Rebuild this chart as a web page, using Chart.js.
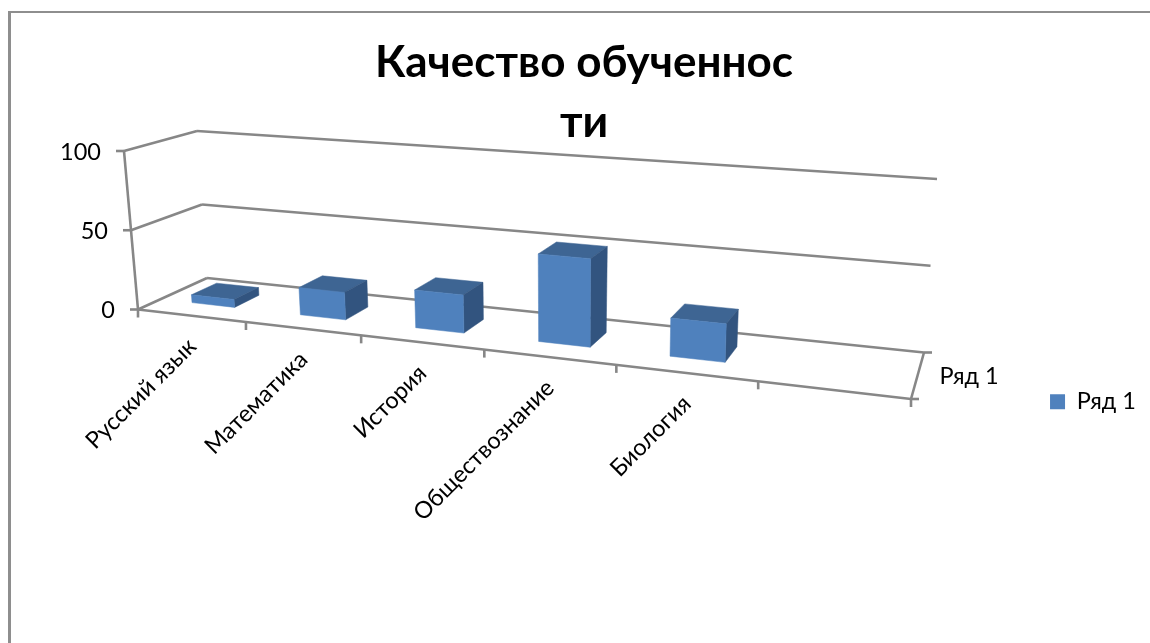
<!DOCTYPE html>
<html>
<head>
<meta charset="utf-8">
<style>
  html, body { margin: 0; padding: 0; background: #fff; overflow: hidden; }
  #frame { position: absolute; left: 8px; top: 11px; width: 1142px; height: 632px; border-left: 3px solid #8e8e8e; border-top: 2px solid #8e8e8e; box-sizing: border-box; }
  #chart { position: absolute; left: 0; top: 0; }
</style>
<script src="https://cdn.jsdelivr.net/npm/chart.js@4/dist/chart.umd.js"></script>
</head>
<body>
<div id="frame"></div>
<canvas id="chart" width="1150" height="643"></canvas>
<script>
// Data
const categories = ['Русский язык', 'Математика', 'История', 'Обществознание', 'Биология', ''];
const seriesName = 'Ряд 1';
const seriesValues = [5, 17, 23, 52, 22, null];
const valueTicks = [0, 50, 100];
const chartTitle = ['Качество обученнос', 'ти'];

// Colours and font
const frontColor = '#4f81bd';
const topColor = '#3e6593';
const sideColor = '#32547f';
const gridColor = '#878787';
const fontFamily = 'Lato, Carlito, sans-serif';
const labelSize = 23.5;

// Where the 3D box lands on the page: [x, y] per corner
const box = {
  frontBottomLeft: [138, 309.5], frontBottomRight: [911, 399],
  backBottomLeft: [207, 278], backBottomRight: [924, 352.5],
  frontTopLeft: [124, 151], frontTopRight: [921, 213],
  backTopLeft: [197, 131], backTopRight: [937, 179]
};
const perspectiveFront = 1.232; // categories get wider towards the right
const perspectiveBack = 1.19;
const barDepth = [0.33, 0.70]; // bars sit in the middle of the floor

function lerp(a, b, t) { return a + (b - a) * t; }

// u along the categories, v up the values, d into the page, all 0..1
function project(u, v, d) {
  const k = lerp(perspectiveFront, perspectiveBack, d);
  const w = u === 0 ? 0 : u / (u + k * (1 - u));
  const pick = i => {
    const bottom = lerp(
      lerp(box.frontBottomLeft[i], box.frontBottomRight[i], w),
      lerp(box.backBottomLeft[i], box.backBottomRight[i], w), d);
    const top = lerp(
      lerp(box.frontTopLeft[i], box.frontTopRight[i], w),
      lerp(box.backTopLeft[i], box.backTopRight[i], w), d);
    return lerp(bottom, top, v);
  };
  return [pick(0), pick(1)];
}

function line(ctx, a, b) {
  ctx.beginPath();
  ctx.moveTo(a[0], a[1]);
  ctx.lineTo(b[0], b[1]);
  ctx.stroke();
}

function face(ctx, points, color) {
  ctx.fillStyle = color;
  ctx.strokeStyle = color;
  ctx.lineWidth = 0.5;
  ctx.beginPath();
  points.forEach((p, i) => i ? ctx.lineTo(p[0], p[1]) : ctx.moveTo(p[0], p[1]));
  ctx.closePath();
  ctx.fill();
  ctx.stroke();
}

// Walls, floor, axes and their labels, placed from the chart's own scales
const box3d = {
  id: 'box3d',
  beforeDatasetsDraw(chart) {
    const ctx = chart.ctx;
    const xScale = chart.scales.x;
    const yScale = chart.scales.y;
    const vOf = value => (yScale.bottom - yScale.getPixelForValue(value)) / (yScale.bottom - yScale.top);

    ctx.save();
    ctx.strokeStyle = gridColor;
    ctx.lineWidth = 2.6;

    // value axis + gridlines along left wall and back wall
    line(ctx, project(0, 0, 0), project(0, 1, 0));
    ctx.fillStyle = '#000';
    ctx.font = labelSize + 'px ' + fontFamily;
    ctx.textBaseline = 'middle';
    ctx.textAlign = 'right';
    valueTicks.forEach(t => {
      const v = vOf(t);
      const front = project(0, v, 0);
      line(ctx, front, project(0, v, 1));
      line(ctx, project(0, v, 1), project(1, v, 1));
      line(ctx, [front[0] - 8, front[1]], front);
      ctx.fillText(String(t), front[0] - 23, front[1] + 1);
    });

    // floor edges
    line(ctx, project(0, 0, 0), project(1, 0, 0));
    line(ctx, project(1, 0, 0), project(1, 0, 1));
    const backEnd = project(1, 0, 1);
    const frontEnd = project(1, 0, 0);
    line(ctx, backEnd, [backEnd[0] + 8, backEnd[1]]);
    line(ctx, frontEnd, [frontEnd[0] + 8, frontEnd[1]]);

    // category ticks and slanted labels
    const n = categories.length;
    for (let i = 0; i <= n; i++) {
      const p = project(i / n, 0, 0);
      line(ctx, p, [p[0], p[1] + 8]);
    }
    categories.forEach((name, i) => {
      const u = (xScale.getPixelForValue(i) - xScale.left) / (xScale.right - xScale.left);
      const p = project(u, 0, 0);
      ctx.save();
      ctx.translate(p[0] + 1, p[1] + 27);
      ctx.rotate(-Math.PI / 4);
      ctx.textAlign = 'right';
      ctx.fillText(name, 0, 0);
      ctx.restore();
    });

    // series axis label
    ctx.textAlign = 'left';
    const mid = project(1, 0, 0.5);
    ctx.fillText(seriesName, mid[0] + 22, mid[1] + 1);
    ctx.restore();
  },
  // Bars come from the bar elements, then get folded into the box
  beforeDatasetDraw(chart, args) {
    const ctx = chart.ctx;
    const xScale = chart.scales.x;
    const yScale = chart.scales.y;
    const uOf = px => (px - xScale.left) / (xScale.right - xScale.left);
    const vOf = px => (yScale.bottom - px) / (yScale.bottom - yScale.top);
    ctx.save();
    args.meta.data.forEach((bar, i) => {
      if (seriesValues[i] === null) return;
      const b = bar.getProps(['x', 'y', 'base', 'width'], true);
      const u0 = uOf(b.x - b.width / 2);
      const u1 = uOf(b.x + b.width / 2);
      const v0 = vOf(b.base);
      const v1 = vOf(b.y);
      const d0 = barDepth[0];
      const d1 = barDepth[1];
      face(ctx, [project(u0, v1, d0), project(u1, v1, d0), project(u1, v1, d1), project(u0, v1, d1)], topColor);
      face(ctx, [project(u1, v0, d0), project(u1, v0, d1), project(u1, v1, d1), project(u1, v1, d0)], sideColor);
      face(ctx, [project(u0, v0, d0), project(u1, v0, d0), project(u1, v1, d0), project(u0, v1, d0)], frontColor);
    });
    ctx.restore();
    return false;
  }
};

new Chart(document.getElementById('chart'), {
  type: 'bar',
  data: {
    labels: categories,
    datasets: [{
      label: seriesName,
      data: seriesValues,
      backgroundColor: frontColor,
      barPercentage: 0.4,
      categoryPercentage: 1
    }]
  },
  plugins: [box3d],
  options: {
    responsive: false,
    animation: false,
    devicePixelRatio: 1,
    layout: { padding: { left: 22, right: 4, top: 33, bottom: 0 } },
    scales: {
      x: { display: false, offset: true },
      y: { display: false, min: 0, max: 100, ticks: { stepSize: 50 } }
    },
    plugins: {
      tooltip: { enabled: false },
      title: {
        display: true,
        text: chartTitle,
        color: '#000',
        font: { family: fontFamily, size: 44, weight: 'bold', lineHeight: 1.36 },
        padding: { top: 0, bottom: 8 }
      },
      legend: {
        position: 'right',
        fullSize: false,
        labels: {
          color: '#000',
          font: { family: fontFamily, size: labelSize },
          boxWidth: 15,
          boxHeight: 15,
          padding: 8
        }
      }
    }
  }
});
</script>
</body>
</html>
